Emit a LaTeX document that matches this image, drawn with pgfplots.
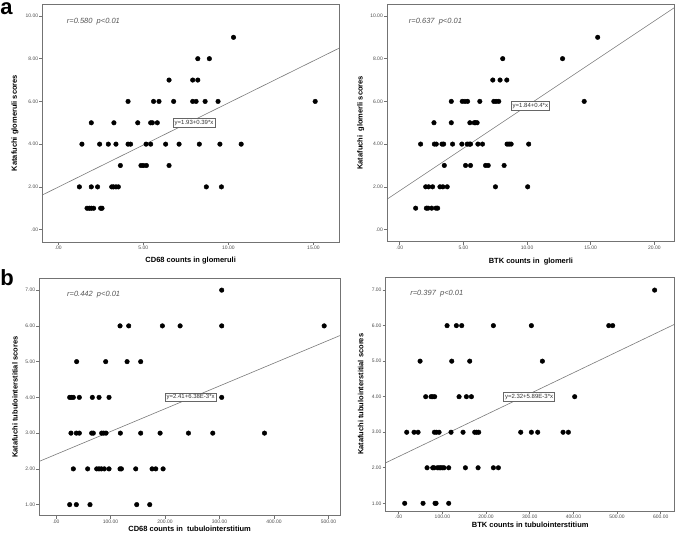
\documentclass[border=0pt]{standalone}
\usepackage{pgfplots}
\pgfplotsset{compat=1.18}
\usepackage{fontspec}
\setmainfont{Liberation Sans}
\definecolor{regl}{HTML}{7A7A7A}
\definecolor{annot}{HTML}{555555}
\newcommand{\lblfont}{\fontsize{7.5}{9}\selectfont\bfseries}
\pgfplotsset{
  spss/.style={
    scale only axis,
    axis lines=box,
    axis line style={draw=black!55, line width=0.8pt},
    every tick/.style={draw=black!55, line width=0.6pt},
    tick align=outside,
    major tick length=3pt,
    xtick pos=left, ytick pos=left,
    /pgf/number format/assume math mode=true,
    tick label style={font=\fontsize{5}{6}\selectfont, text=black!70, inner sep=1pt},
    clip=false,
  },
  pts/.style={only marks, mark=*, mark size=2.3pt, mark options={fill=black, draw=black}},
  reg/.style={no marks, draw=regl, line width=0.6pt},
}
\tikzset{
  eqbox/.style={draw=black!60, fill=white, font=\fontsize{6}{7}\selectfont, inner sep=1.5pt, text=black!80},
  rtext/.style={font=\fontsize{7.5}{8}\selectfont\itshape, text=annot, anchor=west},
  frmnode/.style={draw=black!55, line width=0.8pt, inner sep=0pt, outer sep=0pt, anchor=south west},
}
\begin{document}
\begin{tikzpicture}
\path (0,0) rectangle (676pt,541pt);
% ---------- a left
\begin{axis}[spss, at={(42.3pt,299pt)}, anchor=south west,
  width=296.7pt, height=238pt,
  xmin=-0.94, xmax=16.5, ymin=-0.58, ymax=10.56,
  xtick={0,5,10,15}, xticklabels={.00,5.00,10.00,15.00},
  ytick={0,2,4,6,8,10}, yticklabels={.00,2.00,4.00,6.00,8.00,10.00},
  xlabel={CD68 counts in glomeruli}, ylabel={Katafuchi glomeruli scores},
  x label style={at={([yshift=-19pt]axis description cs:0.5,0)}, anchor=center, font=\lblfont},
  y label style={at={([xshift=-27.3pt]axis description cs:0,0.5)}, anchor=center, font=\lblfont},
]
\addplot[pts] table {
x y
10.3 9
8.2 8
8.88 8
6.51 7
7.9 7
8.2 7
4.1 6
5.6 6
5.92 6
6.78 6
7.9 6
8.1 6
8.63 6
9.39 6
15.1 6
1.94 5
3.27 5
4.67 5
5.43 5
5.53 5
5.82 5
1.39 4
2.43 4
2.94 4
3.39 4
4.1 4
4.25 4
5.16 4
5.43 4
6.31 4
7.1 4
8.29 4
9.5 4
10.75 4
3.65 3
4.86 3
5.0 3
5.18 3
6.51 3
1.24 2
1.94 2
2.31 2
3.14 2
3.24 2
3.39 2
3.53 2
8.7 2
9.59 2
1.69 1
1.82 1
1.94 1
2.08 1
2.49 1
2.57 1
};
\addplot[reg] coordinates {(-0.94,1.62) (16.5,8.49)};
\node[eqbox] at (axis cs:7.98,5.0) {y=1.93+0.39*x};
\node[rtext] at (axis cs:0.3,9.73) {r=0.580\ \ p<0.01};
\node[frmnode, minimum width=296.7pt, minimum height=238pt] at (rel axis cs:0,0) {};
\end{axis}
% ---------- a right
\begin{axis}[spss, at={(387pt,299.3pt)}, anchor=south west,
  width=287.7pt, height=237.7pt,
  xmin=-1.0, xmax=21.6, ymin=-0.57, ymax=10.56,
  xtick={0,5,10,15,20}, xticklabels={.00,5.00,10.00,15.00,20.00},
  ytick={0,2,4,6,8,10}, yticklabels={.00,2.00,4.00,6.00,8.00,10.00},
  xlabel={BTK counts in\ \ glomerli}, ylabel={Katafuchi\ \ glomerli scores},
  x label style={at={([yshift=-20pt]axis description cs:0.5,0)}, anchor=center, font=\lblfont},
  y label style={at={([xshift=-26.3pt]axis description cs:0,0.5)}, anchor=center, font=\lblfont},
]
\addplot[pts] table {
x y
15.55 9
8.09 8
12.79 8
7.31 7
7.88 7
8.41 7
4.05 6
4.91 6
5.12 6
5.33 6
6.29 6
7.39 6
7.57 6
7.78 6
14.49 6
2.69 5
4.05 5
5.51 5
5.85 5
5.95 5
6.08 5
1.64 4
2.72 4
2.87 4
3.32 4
3.45 4
4.15 4
4.88 4
5.3 4
5.46 4
5.56 4
6.14 4
6.5 4
8.43 4
8.59 4
8.75 4
10.13 4
3.5 3
5.17 3
5.56 3
6.74 3
6.95 3
8.2 3
2.04 2
2.27 2
2.58 2
3.16 2
3.39 2
3.73 2
7.52 2
10.05 2
1.25 1
2.09 1
2.22 1
2.51 1
2.85 1
2.98 1
};
\addplot[reg] coordinates {(-1.0,1.42) (21.6,10.4)};
\node[eqbox] at (axis cs:10.26,5.8) {y=1.84+0.4*x};
\node[rtext] at (axis cs:0.45,9.73) {r=0.637\ \ p<0.01};
\node[frmnode, minimum width=287.7pt, minimum height=237.7pt] at (rel axis cs:0,0) {};
\end{axis}
% ---------- b left
\begin{axis}[spss, at={(39.3pt,25.3pt)}, anchor=south west,
  width=300.7pt, height=237pt,
  xmin=-30.6, xmax=521, ymin=0.69, ymax=7.32,
  xtick={0,100,200,300,400,500}, xticklabels={.00,100.00,200.00,300.00,400.00,500.00},
  ytick={1,2,3,4,5,6,7}, yticklabels={1.00,2.00,3.00,4.00,5.00,6.00,7.00},
  xlabel={CD68 counts in\ \ tubulointerstitium}, ylabel={Katafuchi tubulointerstitial scores},
  x label style={at={([yshift=-13pt]axis description cs:0.5,0)}, anchor=center, font=\lblfont},
  y label style={at={([xshift=-24.3pt]axis description cs:0,0.5)}, anchor=center, font=\lblfont},
]
\addplot[pts] table {
x y
304 7
117.5 6
133.4 6
195.2 6
227.7 6
304 6
492 6
37.9 5
91.2 5
130.4 5
155.4 5
25.1 4
28.2 4
31.8 4
42.8 4
66.7 4
79 4
97.3 4
304 4
27.5 3
37.3 3
42.8 3
65.5 3
68.5 3
83.8 3
87.5 3
91.8 3
118.1 3
155.4 3
191 3
243 3
287.6 3
382.5 3
31.8 2
58.1 2
74.7 2
79 2
83.2 2
88.7 2
97.3 2
117.5 2
120 2
146.3 2
176.3 2
183 2
196.5 2
25.1 1
37.3 1
62.4 1
148.1 1
172 1
};
\addplot[reg] coordinates {(-30.6,2.21) (521,5.73)};
\node[eqbox] at (axis cs:247,4.0) {y=2.41+6.38E-3*x};
\node[rtext] at (axis cs:14,6.88) {r=0.442\ \ p<0.01};
\node[frmnode, minimum width=300.7pt, minimum height=237pt] at (rel axis cs:0,0) {};
\end{axis}
% ---------- b right
\begin{axis}[spss, at={(385.7pt,29.7pt)}, anchor=south west,
  width=289pt, height=234pt,
  xmin=-29.8, xmax=632, ymin=0.775, ymax=7.36,
  xtick={0,100,200,300,400,500,600}, xticklabels={.00,100.00,200.00,300.00,400.00,500.00,600.00},
  ytick={1,2,3,4,5,6,7}, yticklabels={1.00,2.00,3.00,4.00,5.00,6.00,7.00},
  xlabel={BTK counts in tubulointerstitium}, ylabel={Katafuchi tubulointerstitial scores},
  x label style={at={([yshift=-13.4pt]axis description cs:0.5,0)}, anchor=center, font=\lblfont},
  y label style={at={([xshift=-25pt]axis description cs:0,0.5)}, anchor=center, font=\lblfont},
]
\addplot[pts] table {
x y
586 7
110.7 6
132 6
144.3 6
216.8 6
303.8 6
481 6
490 6
48.9 5
121.4 5
162.6 5
329 5
61.8 4
74 4
77.9 4
82.4 4
138.2 4
155 4
166.4 4
403 4
18.3 3
35.1 3
44.3 3
81.7 3
86.3 3
92.4 3
119.8 3
147.3 3
174 3
178.6 3
183.2 3
279.4 3
303.8 3
318.3 3
376.3 3
388.5 3
64.9 2
77.9 2
80.9 2
88.5 2
92.4 2
96.2 2
100 2
103.8 2
114.5 2
152.7 2
181.7 2
216.8 2
228.2 2
13.7 1
55.7 1
83.2 1
85.5 1
114.5 1
};
\addplot[reg] coordinates {(-29.8,2.14) (632,6.04)};
\node[eqbox] at (axis cs:298.5,4.0) {y=2.32+5.89E-3*x};
\node[rtext] at (axis cs:18.5,6.89) {r=0.397\ \ p<0.01};
\node[frmnode, minimum width=289pt, minimum height=234pt] at (rel axis cs:0,0) {};
\end{axis}
\node[font=\fontsize{22}{24}\selectfont\bfseries, anchor=base west, inner sep=0pt] at (0.3pt,526pt) {a};
\node[font=\fontsize{22}{24}\selectfont\bfseries, anchor=base west, inner sep=0pt] at (0.3pt,255pt) {b};
\end{tikzpicture}
\end{document}
